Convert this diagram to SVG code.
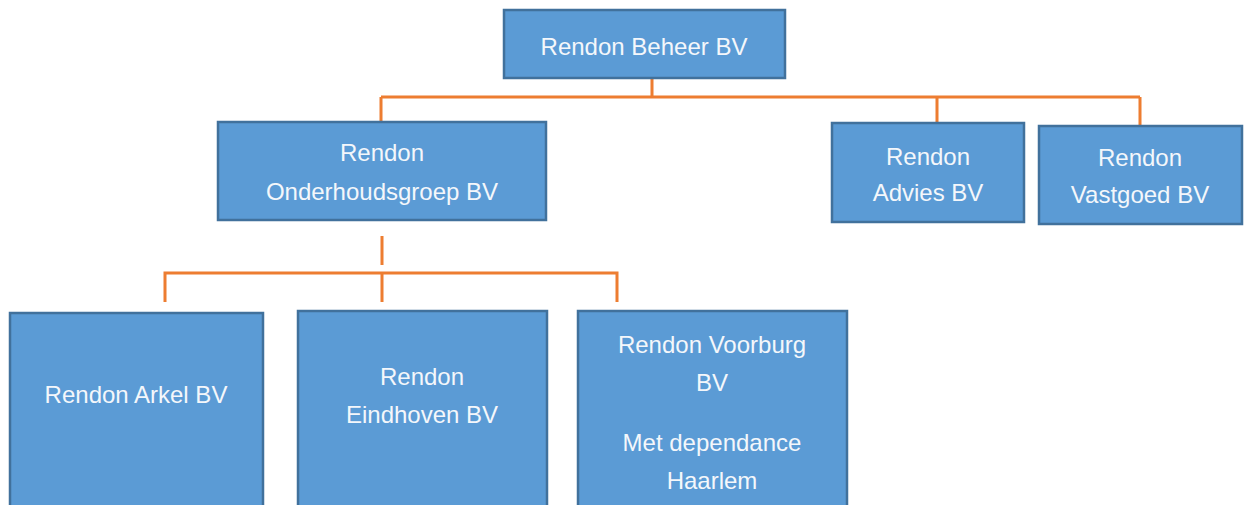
<svg xmlns="http://www.w3.org/2000/svg" width="1246" height="505" viewBox="0 0 1246 505">
<style>
.box{fill:#5B9BD5;stroke:#41719C;stroke-width:2.5}
.lbl{fill:#F4F7FB;font-family:"Liberation Sans",Arial,sans-serif;font-size:24px;text-anchor:middle}
.con{fill:none;stroke:#ED7D31;stroke-width:3}
</style>
<rect width="1246" height="505" fill="#FFFFFF"/>
<g id="connectors">
<path class="con" d="M652,78 V97 M381,97 H1140 M381,97 V122 M937,97 V123 M1140,97 V125"/>
<path class="con" d="M382,236 V265 M165,302 V273 H617 V302 M382,273 V302"/>
</g>
<g id="beheer">
<rect class="box" x="504" y="10" width="281" height="68"/>
<text class="lbl" x="644" y="55">Rendon Beheer BV</text>
</g>
<g id="onderhoudsgroep">
<rect class="box" x="218" y="122" width="328" height="98"/>
<text class="lbl" x="382" y="161">Rendon</text>
<text class="lbl" x="382" y="200">Onderhoudsgroep BV</text>
</g>
<g id="advies">
<rect class="box" x="832" y="123" width="192" height="99"/>
<text class="lbl" x="928" y="165">Rendon</text>
<text class="lbl" x="928" y="201">Advies BV</text>
</g>
<g id="vastgoed">
<rect class="box" x="1039" y="126" width="203" height="98"/>
<text class="lbl" x="1140" y="166">Rendon</text>
<text class="lbl" x="1140" y="203">Vastgoed BV</text>
</g>
<g id="arkel">
<rect class="box" x="10" y="313" width="253" height="200"/>
<text class="lbl" x="136" y="403">Rendon Arkel BV</text>
</g>
<g id="eindhoven">
<rect class="box" x="298" y="311" width="249" height="202"/>
<text class="lbl" x="422" y="385">Rendon</text>
<text class="lbl" x="422" y="423">Eindhoven BV</text>
</g>
<g id="voorburg">
<rect class="box" x="578" y="311" width="269" height="202"/>
<text class="lbl" x="712" y="353">Rendon Voorburg</text>
<text class="lbl" x="712" y="391">BV</text>
<text class="lbl" x="712" y="451">Met dependance</text>
<text class="lbl" x="712" y="489">Haarlem</text>
</g>
</svg>
